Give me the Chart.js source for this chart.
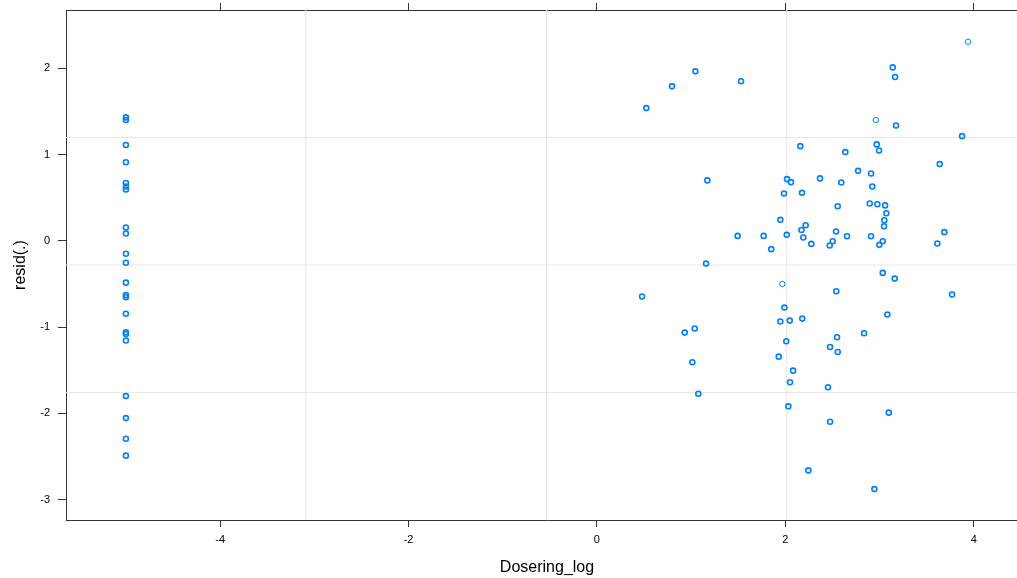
<!DOCTYPE html>
<html>
<head>
<meta charset="utf-8">
<script src="https://cdn.jsdelivr.net/npm/chart.js@4.4.1/dist/chart.umd.min.js"></script>
<style>
  html, body { margin: 0; padding: 0; background: #fff; overflow: hidden; }
  #wrap { width: 1040px; height: 578px; }
</style>
</head>
<body>
<div id="wrap"><canvas id="resid-chart" width="1040" height="578"></canvas></div>
<script>
// ============================================================
// DATA
// ============================================================

// residuals at the lowest dose (log = -5)
const lowDoseX = [-5, -5, -5, -5, -5, -5, -5, -5, -5, -5, -5,
                  -5, -5, -5, -5, -5, -5, -5, -5, -5, -5, -5];
const lowDoseResid = [1.43, 1.40, 1.11, 0.91, 0.67, 0.63, 0.595, 0.155, 0.085, -0.15, -0.255,
                      -0.485, -0.63, -0.655, -0.845, -1.06, -1.08, -1.155, -1.80, -2.055, -2.295, -2.49];

// residuals for the dosed group
const doseX = [
  1.045, 0.797, 1.53, 0.524, 3.14, 3.165, 3.175, 3.876,
  2.159, 2.637, 2.97, 2.995, 3.639, 1.172, 2.018, 2.06, 2.368, 2.594, 2.772, 2.91, 2.923, 1.986, 2.177,
  2.556, 2.896, 2.977, 3.059, 3.072, 3.051, 3.048, 1.947, 2.171, 2.216, 1.494, 1.77, 2.015, 2.191, 2.538, 2.655, 2.91, 3.688,
  1.851, 2.276, 2.471, 2.503, 2.998, 3.034, 3.614,
  1.158, 3.034, 3.161, 0.479, 2.541, 3.77,
  1.99, 1.947, 2.047, 2.18, 3.083,
  0.932, 1.038, 2.549, 2.836, 2.01, 2.475, 2.556, 1.93, 1.013, 2.082, 2.05, 2.453, 1.076, 2.032, 3.098, 2.475, 2.244, 2.945
];
const doseResid = [
  1.964, 1.79, 1.85, 1.538, 2.01, 1.898, 1.337, 1.213,
  1.097, 1.028, 1.117, 1.047, 0.889, 0.70, 0.715, 0.68, 0.723, 0.676, 0.811, 0.78, 0.63, 0.549, 0.556,
  0.401, 0.433, 0.424, 0.41, 0.32, 0.239, 0.169, 0.243, 0.126, 0.181, 0.057, 0.057, 0.069, 0.038, 0.108, 0.053, 0.053, 0.10,
  -0.097, -0.036, -0.055, -0.005, -0.047, -0.005, -0.031,
  -0.264, -0.372, -0.438, -0.646, -0.585, -0.623,
  -0.774, -0.936, -0.925, -0.902, -0.855,
  -1.064, -1.017, -1.118, -1.072, -1.165, -1.231, -1.289, -1.343, -1.408, -1.505, -1.64, -1.698, -1.772, -1.919, -1.992, -2.097, -2.661, -2.878
];

// single (thin) circles
const singleX = [3.94, 2.96, 1.968];
const singleResid = [2.307, 1.40, -0.50];

// axis ticks and limits
const xTickValues = [-4, -2, 0, 2, 4];
const yTickValues = [-3, -2, -1, 0, 1, 2];
const xLimits = [-5.636, 4.576];
const yLimits = [-3.236, 2.675];

// reference grid lines
const refLinesX = [-3.09, -0.535, 2.015];
const refLinesY = [1.197, -0.281, -1.759];

// ============================================================
// BUILD CHART
// ============================================================

const POINT_COLOR = "#0080ff";
const AXIS_COLOR  = "#333333";
const FONT        = "'Liberation Sans', Arial, sans-serif";

function toPoints(xs, ys) {
  return xs.map((x, i) => ({ x: x, y: ys[i] }));
}

function refLineDatasets() {
  const sets = [];
  refLinesX.forEach(v => sets.push({
    type: "line",
    data: [{ x: v, y: yLimits[0] }, { x: v, y: yLimits[1] }]
  }));
  refLinesY.forEach(v => sets.push({
    type: "line",
    data: [{ x: xLimits[0], y: v }, { x: xLimits[1], y: v }]
  }));
  return sets.map(s => Object.assign(s, {
    borderColor: "#e6e6e6",
    borderWidth: 1,
    pointRadius: 0,
    fill: false,
    order: 5,
  }));
}

function fixTicks(values) {
  return scale => { scale.ticks = values.map(v => ({ value: v })); };
}

// force exact box size, drop the label overflow padding
function fixSize(prop, size) {
  return s => {
    s[prop] = size;
    s.paddingTop = 0; s.paddingBottom = 0;
    s.paddingLeft = 0; s.paddingRight = 0;
  };
}

const canvas = document.getElementById("resid-chart");

new Chart(canvas, {
  type: "scatter",
  data: {
    datasets: [
      ...refLineDatasets(),
      {
        data: toPoints(lowDoseX, lowDoseResid).concat(toPoints(doseX, doseResid)),
        borderColor: POINT_COLOR,
        backgroundColor: "rgba(0,0,0,0)",
        borderWidth: 1.6,
        pointRadius: 2.5,
        order: 1,
      },
      {
        data: toPoints(singleX, singleResid),
        borderColor: POINT_COLOR,
        backgroundColor: "rgba(0,0,0,0)",
        borderWidth: 1,
        pointRadius: 2.7,
        order: 1,
      },
    ],
  },
  options: {
    responsive: false,
    animation: false,
    events: [],
    layout: { padding: { left: 0, right: 12, top: 0, bottom: 0 }, autoPadding: false },
    plugins: {
      legend: { display: false },
      tooltip: { enabled: false },
    },
    scales: {
      x: {
        type: "linear",
        position: "bottom",
        min: xLimits[0],
        max: xLimits[1],
        afterBuildTicks: fixTicks(xTickValues),
        afterFit: fixSize("height", 58),
        ticks: { color: "#000", font: { family: FONT, size: 11 }, padding: 6, maxRotation: 0 },
        grid: { drawOnChartArea: false, drawTicks: true, tickLength: 7, tickColor: AXIS_COLOR },
        border: { display: true, color: AXIS_COLOR, width: 1 },
        title: {
          display: true, text: "Dosering_log", color: "#000",
          font: { family: FONT, size: 16 }, padding: { top: 0, bottom: 1 },
        },
      },
      xTop: {
        type: "linear",
        position: "top",
        min: xLimits[0],
        max: xLimits[1],
        afterBuildTicks: fixTicks(xTickValues),
        afterFit: fixSize("height", 10),
        ticks: { callback: () => "", padding: 0 },
        grid: { drawOnChartArea: false, drawTicks: true, tickLength: 7, tickColor: AXIS_COLOR },
        border: { display: true, color: AXIS_COLOR, width: 1 },
      },
      y: {
        type: "linear",
        position: "left",
        min: yLimits[0],
        max: yLimits[1],
        afterBuildTicks: fixTicks(yTickValues),
        afterFit: fixSize("width", 66),
        ticks: { color: "#000", font: { family: FONT, size: 11 }, padding: 8, callback: v => String(v) },
        grid: { drawOnChartArea: false, drawTicks: true, tickLength: 8, tickColor: AXIS_COLOR },
        border: { display: true, color: AXIS_COLOR, width: 1 },
        title: {
          display: true, text: "resid(.)", color: "#000",
          font: { family: FONT, size: 16 }, padding: { top: 11, bottom: 0 },
        },
      },
    },
  },
});
</script>
</body>
</html>
